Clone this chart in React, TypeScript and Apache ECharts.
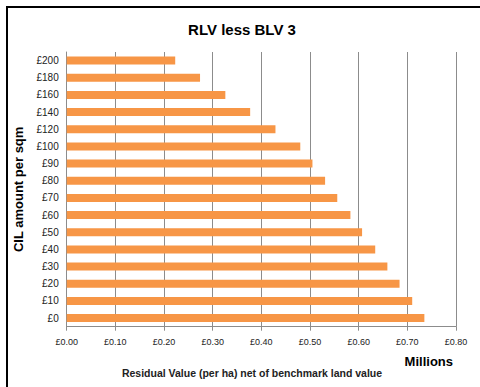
import React, { useEffect, useRef } from "react";
import * as echarts from "echarts";

const categories = ["£0", "£10", "£20", "£30", "£40", "£50", "£60", "£70", "£80", "£90", "£100", "£120", "£140", "£160", "£180", "£200"];
const values = [0.735, 0.710, 0.684, 0.659, 0.634, 0.607, 0.583, 0.556, 0.531, 0.505, 0.480, 0.429, 0.377, 0.326, 0.274, 0.223];
const titleText = "RLV less BLV 3";
const yName = "CIL amount per sqm";
const xUnit = "Millions";
const xName = "Residual Value (per ha) net of benchmark land value";

export default function App() {
  const ref = useRef<HTMLDivElement>(null);
  useEffect(() => {
    if (!ref.current) return;
    const chart = echarts.init(ref.current, null, { renderer: "svg" });
    const font = "Liberation Sans, Arial, sans-serif";
    chart.setOption({
      animation: false,
      backgroundColor: "#ffffff",
      textStyle: { fontFamily: font },
      grid: { left: 66.7, right: 24, top: 52, bottom: 60.3, containLabel: false },
      xAxis: {
        type: "value",
        min: 0,
        max: 0.8,
        interval: 0.1,
        axisLine: { show: true, lineStyle: { color: "#8c8c8c", width: 1 } },
        axisTick: { show: true, length: 4, lineStyle: { color: "#8c8c8c" } },
        axisLabel: {
          formatter: (v: number) => "£" + v.toFixed(2),
          fontSize: 9,
          color: "#222",
          margin: 11,
          fontFamily: font,
        },
        splitLine: { show: true, lineStyle: { color: "#8c8c8c", width: 1 } },
      },
      yAxis: {
        type: "category",
        data: categories,
        name: yName,
        nameLocation: "middle",
        nameRotate: 90,
        nameGap: 42,
        nameTextStyle: { fontSize: 13, fontWeight: "bold", color: "#000", fontFamily: font },
        axisLine: { show: true, lineStyle: { color: "#8c8c8c", width: 1 } },
        axisTick: { show: false },
        axisLabel: { fontSize: 10, color: "#222", margin: 8, fontFamily: font },
        splitLine: { show: false },
      },
      series: [
        {
          type: "bar",
          data: values,
          barWidth: 8,
          itemStyle: { color: "#F79646" },
        },
      ],
      graphic: [
        {
          type: "rect",
          shape: { x: 7, y: 7, width: 600, height: 600 },
          style: { fill: "none", stroke: "#000", lineWidth: 2 },
          silent: true,
        },
        {
          type: "text",
          x: 242,
          y: 29,
          style: {
            text: titleText,
            fontSize: 15,
            fontWeight: "bold",
            fill: "#000",
            align: "center",
            verticalAlign: "middle",
            fontFamily: font,
          },
        },
        {
          type: "text",
          x: 453,
          y: 361,
          style: {
            text: xUnit,
            fontSize: 13,
            fontWeight: "bold",
            fill: "#000",
            align: "right",
            verticalAlign: "middle",
            fontFamily: font,
          },
        },
        {
          type: "text",
          x: 252,
          y: 373,
          style: {
            text: xName,
            fontSize: 10.5,
            fontWeight: "bold",
            fill: "#222",
            align: "center",
            verticalAlign: "middle",
            fontFamily: font,
          },
        },
      ],
    });
    return () => chart.dispose();
  }, []);
  return (
    <div
      ref={ref}
      style={{ position: "fixed", left: 0, top: 0, width: 480, height: 387 }}
    />
  );
}
